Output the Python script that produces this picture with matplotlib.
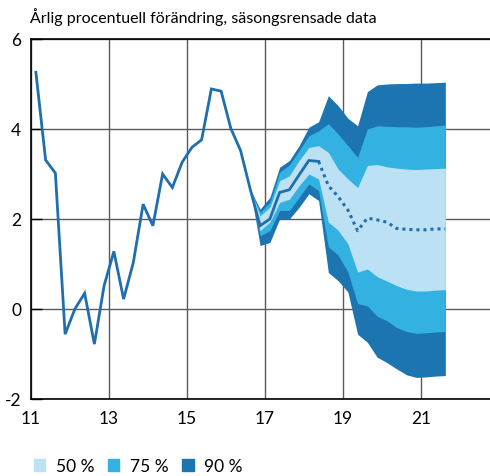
import numpy as np
import matplotlib.pyplot as plt
from matplotlib.patches import Patch

plt.rcParams['font.family'] = ['Lato', 'DejaVu Sans']
plt.rcParams['axes.unicode_minus'] = False

# historical outcome, quarterly (mid-quarter positions)
hist_x = 11.125 + 0.25 * np.arange(30)
hist_y = [5.26, 3.31, 3.02, -0.56, 0.00, 0.35, -0.78, 0.52, 1.28, 0.22,
          1.04, 2.33, 1.85, 3.00, 2.70, 3.26, 3.59, 3.76, 4.89, 4.84,
          4.01, 3.52, 2.65, 1.85, 2.00, 2.59, 2.65, 2.98, 3.30, 3.28]

# forecast (dotted)
fc_x = 18.375 + 0.25 * np.arange(14)
fc_y = [3.28, 2.74, 2.50, 2.20, 1.74, 2.02, 1.98, 1.93, 1.79, 1.77,
        1.76, 1.76, 1.78, 1.78]

# uncertainty bands
band_x = 16.625 + 0.25 * np.arange(21)
hi90 = [2.65, 2.22, 2.48, 3.15, 3.30, 3.63, 4.04, 4.16, 4.74, 4.52, 4.24,
        4.07, 4.83, 4.98, 5.00, 5.01, 5.01, 5.02, 5.02, 5.03, 5.04]
hi75 = [2.65, 2.15, 2.37, 3.04, 3.20, 3.52, 3.85, 3.96, 4.12, 3.89, 3.63,
        3.37, 4.00, 4.07, 4.06, 4.05, 4.05, 4.04, 4.05, 4.07, 4.09]
hi50 = [2.65, 2.07, 2.26, 2.85, 2.96, 3.30, 3.59, 3.63, 3.48, 3.11, 2.89,
        2.70, 3.19, 3.21, 3.16, 3.13, 3.11, 3.10, 3.11, 3.12, 3.13]
lo50 = [2.65, 1.74, 1.93, 2.37, 2.44, 2.74, 3.00, 2.89, 1.93, 1.75, 1.45,
        0.82, 0.89, 0.72, 0.62, 0.52, 0.44, 0.40, 0.40, 0.42, 0.43]
lo75 = [2.65, 1.63, 1.74, 2.19, 2.19, 2.48, 2.78, 2.63, 1.38, 1.20, 0.82,
        0.12, 0.07, -0.16, -0.26, -0.41, -0.50, -0.54, -0.53, -0.51, -0.50]
lo90 = [2.65, 1.41, 1.48, 2.00, 2.00, 2.26, 2.56, 2.41, 0.81, 0.63, 0.38,
        -0.56, -0.74, -1.07, -1.19, -1.33, -1.46, -1.52, -1.51, -1.49, -1.48]

xticks = [11, 13, 15, 17, 19, 21]
yticks = [-2, 0, 2, 4, 6]
labels = ['50 %', '75 %', '90 %']
c50, c75, c90 = '#bde1f4', '#33b1e1', '#1c75b0'
cline = '#1f6eae'

fig = plt.figure(figsize=(4.9, 4.77), dpi=100)
ax = fig.add_axes([31 / 490, 1 - 400 / 477, 1 - 31 / 490, 360 / 477])

ax.fill_between(band_x, lo90, hi90, color=c90, lw=0, zorder=2)
ax.fill_between(band_x, lo75, hi75, color=c75, lw=0, zorder=3)
ax.fill_between(band_x, lo50, hi50, color=c50, lw=0, zorder=4)
ax.plot(hist_x, hist_y, color=cline, lw=2, zorder=5, solid_joinstyle='miter')
ax.plot(fc_x, fc_y, color=cline, lw=2.2, ls=(0, (1, 1.3)), zorder=5)

ax.set_xlim(11, 22.77)
ax.set_ylim(-2, 6)
ax.set_xticks(xticks)
ax.set_xticklabels([str(t) for t in xticks])
ax.set_yticks(yticks)
ax.grid(True, color='#5a5a5a', lw=1, zorder=1)
ax.set_axisbelow(True)
ax.tick_params(direction='in', length=8, width=1, labelsize=12.5, pad=7)
ax.tick_params(axis='x', length=0, pad=8)
for s in ['left', 'bottom', 'top']:
    ax.spines[s].set_color('black')
    ax.spines[s].set_linewidth(1.2)
ax.spines['right'].set_visible(False)

fig.text(30 / 490, 1 - 23 / 477, 'Årlig procentuell förändring, säsongsrensade data',
         fontsize=11.5, ha='left', va='baseline')

handles = [Patch(color=c) for c in [c50, c75, c90]]
fig.legend(handles, labels, loc='center left', bbox_to_anchor=(34 / 490, 1 - 467 / 477),
           ncol=3, frameon=False, fontsize=12.5, handlelength=0.65, handleheight=0.65,
           handletextpad=0.6, columnspacing=0.8, borderaxespad=0, borderpad=0)

fig.savefig('out.png', dpi=100)
